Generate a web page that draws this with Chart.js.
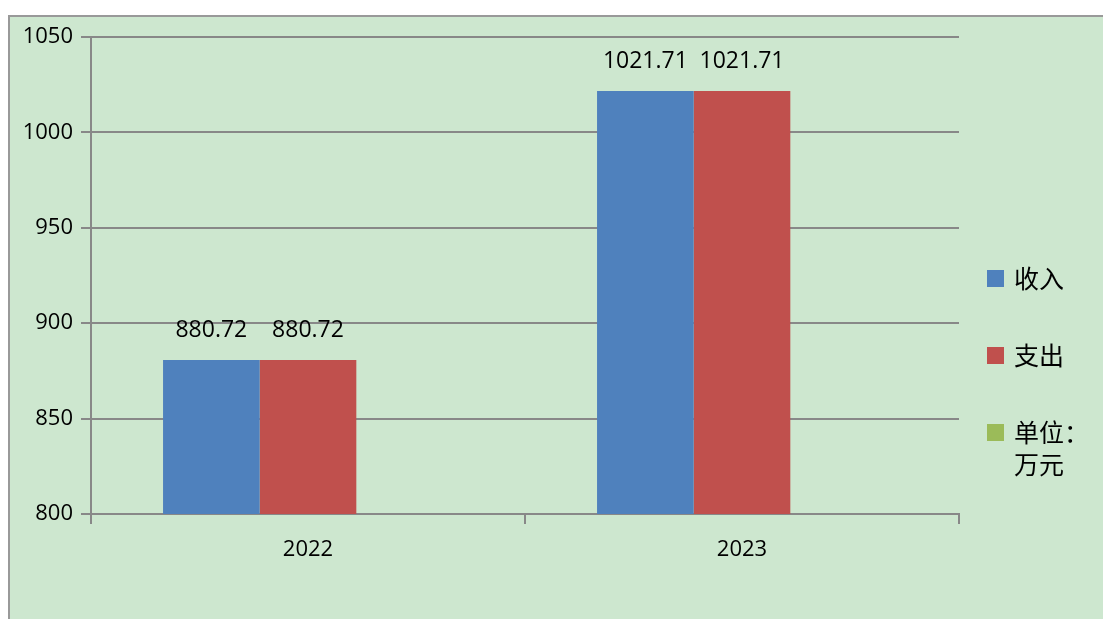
<!DOCTYPE html>
<html><head><meta charset="utf-8">
<script src="https://cdn.jsdelivr.net/npm/chart.js@4"></script>
<style>html,body{margin:0;padding:0;background:#fff;}#wrap{width:1103px;height:619px;position:relative;}</style>
</head><body><div id="wrap"><canvas id="c" width="1103" height="619"></canvas></div>
<script>
const categories = ['2022', '2023'];
const income = [880.72, 1021.71];
const expense = [880.72, 1021.71];
const unitSeries = [null, null];
const seriesNames = ['收入', '支出'];
const legendExtra = ['单位：', '万元'];
const yTicks = [800, 850, 900, 950, 1000, 1050];
const colors = ['#4F81BD', '#C0504D', '#9BBB59'];

const bgPlugin = {
  id: 'bg',
  beforeDraw(chart) {
    const ctx = chart.ctx;
    ctx.save();
    ctx.fillStyle = '#fff';
    ctx.fillRect(0, 0, chart.width, chart.height);
    ctx.fillStyle = '#CDE7CF';
    ctx.fillRect(8, 15, chart.width, chart.height);
    ctx.strokeStyle = '#999999';
    ctx.lineWidth = 2;
    ctx.beginPath();
    ctx.moveTo(9, chart.height + 2);
    ctx.lineTo(9, 16);
    ctx.lineTo(chart.width + 2, 16);
    ctx.stroke();
    ctx.restore();
  }
};

const labelPlugin = {
  id: 'labels',
  afterDatasetsDraw(chart) {
    const ctx = chart.ctx;
    ctx.save();
    ctx.fillStyle = '#000';
    ctx.font = '23px "Open Sans", "Noto Sans", sans-serif';
    ctx.textAlign = 'center';
    ctx.textBaseline = 'middle';
    chart.data.datasets.forEach((ds, i) => {
      chart.getDatasetMeta(i).data.forEach((bar, j) => {
        const v = ds.data[j];
        if (v === null || v === undefined) return;
        ctx.fillText(v.toFixed(2), bar.x, bar.y - 30);
      });
    });
    // legend
    const items = [[seriesNames[0]], [seriesNames[1]], legendExtra];
    const ys = [278, 355, 432];
    ctx.textAlign = 'left';
    ctx.font = '25px "Noto Sans CJK SC", sans-serif';
    items.forEach((lines, i) => {
      ctx.fillStyle = colors[i];
      ctx.fillRect(987, ys[i] - 8, 17, 17);
      ctx.fillStyle = '#000';
      lines.forEach((t, k) => ctx.fillText(t, 1014, ys[i] + k * 32));
    });
    ctx.restore();
  }
};

new Chart(document.getElementById('c'), {
  type: 'bar',
  data: {
    labels: categories,
    datasets: [
      { label: seriesNames[0], data: income, backgroundColor: colors[0] },
      { label: seriesNames[1], data: expense, backgroundColor: colors[1] },
      { label: legendExtra.join(''), data: unitSeries, backgroundColor: colors[2] }
    ]
  },
  options: {
    responsive: false,
    animation: false,
    layout: { padding: { left: 0, right: 144, top: 37, bottom: 0 } },
    datasets: { bar: { categoryPercentage: 0.668, barPercentage: 1.0 } },
    plugins: { legend: { display: false }, tooltip: { enabled: false } },
    scales: {
      x: {
        afterFit(s) { s.height = 619 - 514; },
        grid: { offset: true, drawOnChartArea: false, color: '#888888', lineWidth: 2, tickLength: 10 },
        border: { color: '#888888', width: 2 },
        ticks: { color: '#000', font: { size: 22, family: '"Open Sans", "Noto Sans", sans-serif' }, padding: 13 }
      },
      y: {
        min: 800, max: 1050,
        afterFit(s) { s.width = 91; },
        afterBuildTicks(s) { s.ticks = yTicks.map(v => ({ value: v })); },
        grid: { color: '#888888', lineWidth: 2, tickLength: 10 },
        border: { color: '#888888', width: 2 },
        ticks: {
          color: '#000',
          font: { size: 22, family: '"Open Sans", "Noto Sans", sans-serif' },
          padding: 8,
          callback: v => String(v)
        }
      }
    }
  },
  plugins: [bgPlugin, labelPlugin]
});
</script></body></html>
